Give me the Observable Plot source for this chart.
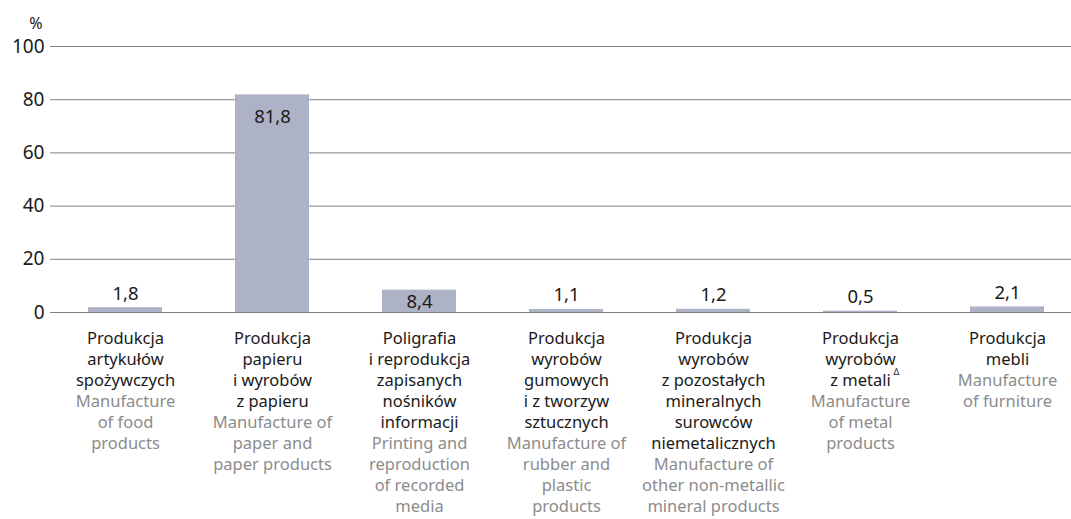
<!DOCTYPE html>
<html>
<head>
<meta charset="utf-8">
<script src="https://cdn.jsdelivr.net/npm/d3@7"></script>
<script src="https://cdn.jsdelivr.net/npm/@observablehq/plot@0.6"></script>
<style>
  html, body { margin: 0; padding: 0; background: #fff; }
  svg { display: block; }
</style>
</head>
<body>
<div id="chart"></div>
<script>
const categories = ["food", "paper", "printing", "rubber", "mineral", "metal", "furniture"];
const values = [1.8, 81.8, 8.4, 1.1, 1.2, 0.5, 2.1];
const labelsPL = [
  "Produkcja\nartykułów\nspożywczych",
  "Produkcja\npapieru\ni wyrobów\nz papieru",
  "Poligrafia\ni reprodukcja\nzapisanych\nnośników\ninformacji",
  "Produkcja\nwyrobów\ngumowych\ni z tworzyw\nsztucznych",
  "Produkcja\nwyrobów\nz pozostałych\nmineralnych\nsurowców\nniemetalicznych",
  "Produkcja\nwyrobów\nz metali",
  "Produkcja\nmebli"
];
const labelsEN = [
  "Manufacture\nof food\nproducts",
  "Manufacture of\npaper and\npaper products",
  "Printing and\nreproduction\nof recorded\nmedia",
  "Manufacture of\nrubber and\nplastic\nproducts",
  "Manufacture of\nother non-metallic\nmineral products",
  "Manufacture\nof metal\nproducts",
  "Manufacture\nof furniture"
];
const yTicks = [0, 20, 40, 60, 80, 100];
const unitLabel = "%";

const data = categories.map((c, i) => ({
  cat: c,
  value: values[i],
  label: String(values[i]).replace(".", ","),
  pl: labelsPL[i],
  en: "\n".repeat(labelsPL[i].split("\n").length) + labelsEN[i]
}));

const font = "'Noto Sans', 'Open Sans', sans-serif";
const fs = 16.5;
const lh = 21 / fs;
const dyLab = 17;

const chart = Plot.plot({
  width: 1071,
  height: 519,
  marginLeft: 50,
  marginRight: 0,
  marginTop: 46,
  marginBottom: 207,
  style: { fontFamily: font, background: "#fff", overflow: "visible" },
  x: { domain: categories, range: [51, 1081], paddingInner: 0.5, paddingOuter: 0.25, axis: null },
  y: { domain: [0, 100], axis: null },
  marks: [
    Plot.ruleY(yTicks, { stroke: "#808080", strokeWidth: 1 }),
    Plot.barY(data, { x: "cat", y: "value", fill: "#adb2c7" }),
    Plot.ruleY([0], { stroke: "#808080", strokeWidth: 1.2 }),
    Plot.axisY({ ticks: yTicks, tickSize: 0, tickPadding: 6, fontSize: 19, fill: "#1a1a1a", label: null, tickFormat: d => d }),
    Plot.text([unitLabel], { frameAnchor: "top-left", textAnchor: "end", dx: -8, dy: -29, fontSize: 16, fill: "#1a1a1a" }),
    Plot.text(data.filter(d => d.value < 5), { x: "cat", y: "value", text: "label", dy: -14, fontSize: 18.5, fill: "#1a1a1a" }),
    Plot.text(data.filter(d => d.value >= 5 && d.value < 20), { x: "cat", y: "value", text: "label", dy: 12, fontSize: 18.5, fill: "#1a1a1a" }),
    Plot.text(data.filter(d => d.value >= 20), { x: "cat", y: "value", text: "label", dy: 22, fontSize: 18.5, fill: "#1a1a1a" }),
    Plot.text(data, { x: "cat", text: "pl", frameAnchor: "bottom", lineAnchor: "top", dy: dyLab, fontSize: fs, lineHeight: lh, fill: "#1a1a1a" }),
    Plot.text(data, { x: "cat", text: "en", frameAnchor: "bottom", lineAnchor: "top", dy: dyLab, fontSize: fs, lineHeight: lh, fill: "#8c8c8c" }),
    Plot.text(data.filter(d => d.cat === "metal"), { x: "cat", text: () => "Δ", frameAnchor: "bottom", textAnchor: "start", lineAnchor: "top", dx: 33, dy: dyLab + 2 * 21 - 3, fontSize: 9, fill: "#1a1a1a" })
  ]
});
document.getElementById("chart").appendChild(chart);
</script>
</body>
</html>
